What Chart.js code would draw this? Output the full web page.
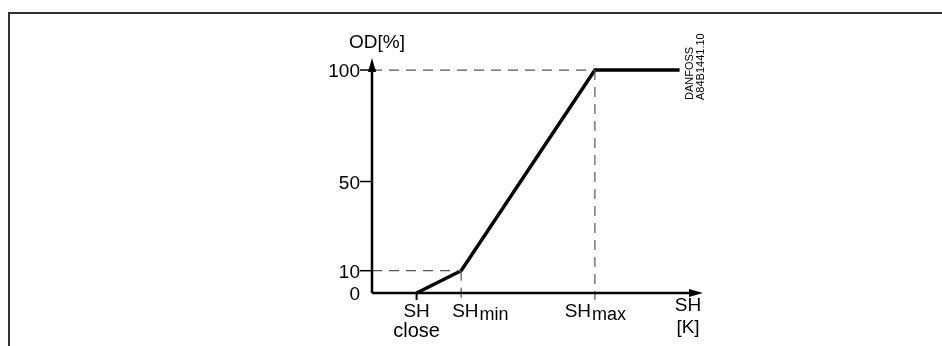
<!DOCTYPE html>
<html>
<head>
<meta charset="utf-8">
<script src="https://cdn.jsdelivr.net/npm/chart.js@4"></script>
<style>
  html, body { margin: 0; padding: 0; background: #fff; }
  #wrap { position: relative; width: 942px; height: 346px; }
</style>
</head>
<body>
<div id="wrap"><canvas id="c" width="942" height="346"></canvas></div>
<script>
// superheat points on the x axis
var xLabels = ['SH|close', 'SH|min', 'SH|max'];
var xPoints = [2, 4, 10];
// opening degree curve
var curveX = [2, 4, 10, 13.8];
var curveY = [0, 10, 100, 100];
// y ticks
var yTicks = [0, 10, 50, 100];
var yTickLabels = ['0', '10', '50', '100'];

var FONT = '"Liberation Sans", Arial, sans-serif';

function pts(xs, ys) {
    return xs.map(function (x, i) { return { x: x, y: ys[i] }; });
}

var dashStyle = {
    showLine: true, borderColor: '#555', borderWidth: 1.2, borderDash: [10, 7],
    pointRadius: 0, fill: false, clip: false
};

var datasets = [
    Object.assign({ data: pts([0, xPoints[2]], [curveY[2], curveY[2]]) }, dashStyle),
    Object.assign({ data: pts([xPoints[2], xPoints[2]], [curveY[2], -3]) }, dashStyle),
    Object.assign({ data: pts([0, xPoints[1]], [curveY[1], curveY[1]]) }, dashStyle),
    Object.assign({ data: pts([xPoints[1], xPoints[1]], [curveY[1], -3]) }, dashStyle),
    {
        data: pts(curveX, curveY), showLine: true, borderColor: '#000', borderWidth: 3.5,
        pointRadius: 0, fill: false, clip: false, borderJoinStyle: 'miter'
    }
];

var axesPlugin = {
    id: 'axes',
    beforeDraw: function (chart) {
        var ctx = chart.ctx;
        // outer frame
        ctx.save();
        ctx.strokeStyle = '#333';
        ctx.lineWidth = 2;
        ctx.beginPath();
        ctx.moveTo(9, 346);
        ctx.lineTo(9, 13);
        ctx.lineTo(942, 13);
        ctx.stroke();
        ctx.restore();
    },
    afterDatasetsDraw: function (chart) {
        var ctx = chart.ctx;
        var xs = chart.scales.x, ys = chart.scales.y;
        var x0 = xs.getPixelForValue(0), y0 = ys.getPixelForValue(0);
        var xEnd = xs.right, yTop = ys.top;
        ctx.save();
        ctx.strokeStyle = '#000';
        ctx.fillStyle = '#000';
        ctx.lineWidth = 2.5;
        ctx.beginPath();
        ctx.moveTo(x0, y0);
        ctx.lineTo(x0, yTop + 10);
        ctx.moveTo(x0, y0);
        ctx.lineTo(xEnd - 10, y0);
        ctx.stroke();
        // arrow heads
        ctx.beginPath();
        ctx.moveTo(x0, yTop);
        ctx.lineTo(x0 - 4, yTop + 14);
        ctx.lineTo(x0 + 4, yTop + 14);
        ctx.closePath();
        ctx.fill();
        ctx.beginPath();
        ctx.moveTo(xEnd, y0);
        ctx.lineTo(xEnd - 14, y0 - 4);
        ctx.lineTo(xEnd - 14, y0 + 4);
        ctx.closePath();
        ctx.fill();

        // y ticks and labels
        ctx.font = '19px ' + FONT;
        ctx.textAlign = 'right';
        ctx.textBaseline = 'alphabetic';
        ctx.lineWidth = 1.5;
        yTicks.forEach(function (v, i) {
            var py = ys.getPixelForValue(v);
            if (v !== 0) {
                ctx.beginPath();
                ctx.moveTo(x0 - 12, py);
                ctx.lineTo(x0 + (v === 100 ? 4 : 0), py);
                ctx.stroke();
            }
            ctx.fillText(yTickLabels[i], x0 - 12, py + 7);
        });

        // SH close tick
        var pc = xs.getPixelForValue(xPoints[0]);
        ctx.lineWidth = 2;
        ctx.beginPath();
        ctx.moveTo(pc, y0);
        ctx.lineTo(pc, y0 + 7);
        ctx.stroke();

        // x labels
        xLabels.forEach(function (lab, i) {
            var parts = lab.split('|');
            var px = xs.getPixelForValue(xPoints[i]);
            if (parts[1] === 'close') {
                ctx.textAlign = 'center';
                ctx.font = '19px ' + FONT;
                ctx.fillText(parts[0], px, y0 + 24);
                ctx.font = '20px ' + FONT;
                ctx.fillText(parts[1], px, y0 + 44);
            } else {
                ctx.font = '19px ' + FONT;
                var w1 = ctx.measureText(parts[0]).width;
                ctx.font = '18px ' + FONT;
                var w2 = ctx.measureText(parts[1]).width;
                // SH min label starts just left of its tick, SH max is centred
                var start = parts[1] === 'min' ? px - 9 : px - (w1 + w2) / 2;
                ctx.textAlign = 'left';
                ctx.font = '19px ' + FONT;
                ctx.fillText(parts[0], start, y0 + 24);
                ctx.font = '18px ' + FONT;
                ctx.fillText(parts[1], start + w1 + 1, y0 + 27);
            }
        });

        // axis titles
        ctx.font = '19px ' + FONT;
        ctx.textAlign = 'center';
        ctx.fillText('OD[%]', x0 + 5, yTop - 10);
        ctx.fillText('SH', xEnd - 15, y0 + 18);
        ctx.fillText('[K]', xEnd - 15, y0 + 40);

        // drawing reference, rotated
        ctx.translate(xEnd - 10, 100);
        ctx.rotate(-Math.PI / 2);
        ctx.font = '11px ' + FONT;
        ctx.textAlign = 'left';
        ctx.fillText('DANFOSS', 0, 0);
        ctx.fillText('A84B1441.10', 0, 11);
        ctx.restore();
    }
};

new Chart(document.getElementById('c'), {
    type: 'scatter',
    data: { datasets: datasets },
    options: {
        responsive: false,
        animation: false,
        events: [],
        layout: { padding: { left: 372, right: 239, top: 58, bottom: 53 } },
        plugins: { legend: { display: false }, tooltip: { enabled: false } },
        scales: {
            x: { type: 'linear', min: 0, max: 14.85, display: false },
            y: { type: 'linear', min: 0, max: 105.4, display: false }
        }
    },
    plugins: [axesPlugin]
});
</script>
</body>
</html>
